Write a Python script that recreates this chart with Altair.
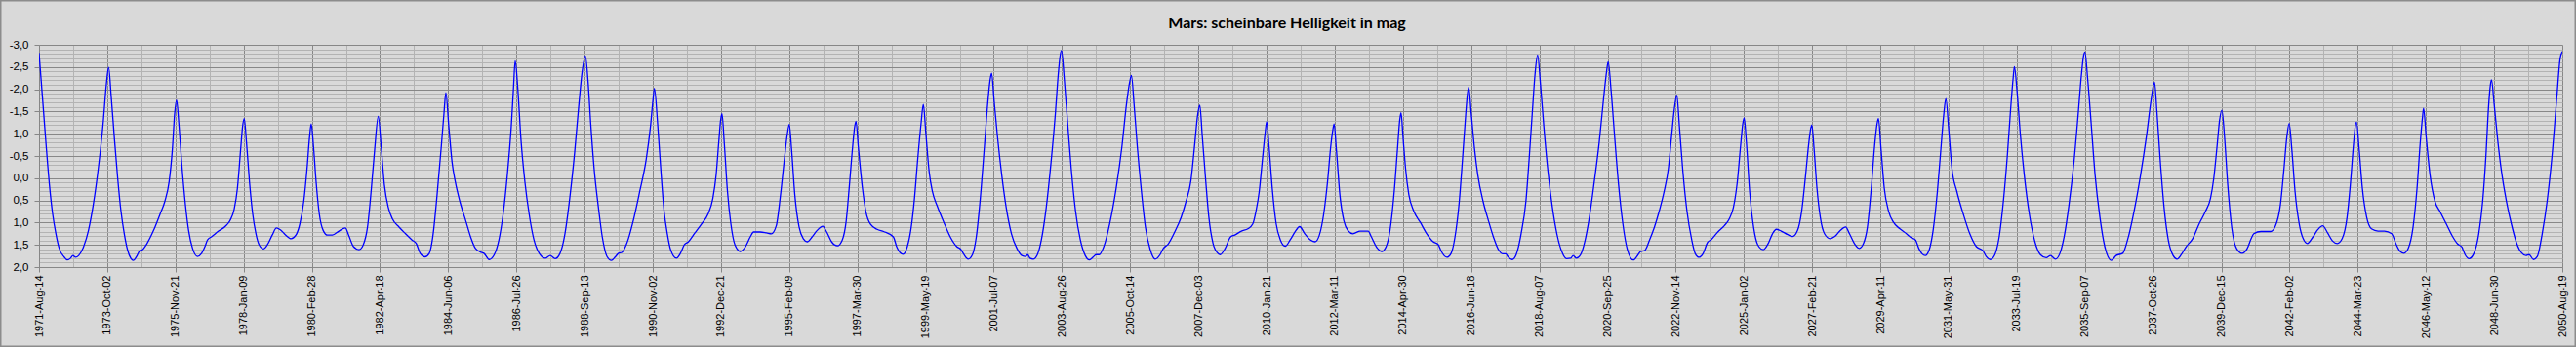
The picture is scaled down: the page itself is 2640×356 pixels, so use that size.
import altair as alt
import pandas as pd

TITLE = "Mars: scheinbare Helligkeit in mag"

# x: days since 1971-08-14 ; y: apparent magnitude
DAYS = [
    0, 45, 82, 119, 156, 193, 231, 286, 324, 361, 387, 417, 454, 510, 565, 621, 677, 733, 770, 796,
    826, 863, 900, 937, 975, 1012, 1049, 1079, 1116, 1153, 1183, 1235, 1309, 1384, 1439, 1488, 1525, 1551, 1573,
    1599, 1637, 1674, 1711, 1756, 1811, 1860, 1897, 1927, 1979, 2053, 2128, 2183, 2232, 2269, 2306, 2328, 2347,
    2373, 2407, 2444, 2481, 2518, 2567, 2611, 2667, 2715, 2760, 2816, 2883, 2938, 2983, 3028, 3065, 3095, 3113,
    3139, 3169, 3206, 3251, 3299, 3355, 3430, 3504, 3541, 3597, 3660, 3708, 3757, 3801, 3839, 3880,
    3913, 3950, 3995, 4043, 4118, 4192, 4266, 4315, 4359, 4415, 4464, 4508, 4553, 4601, 4631, 4653,
    4687, 4724, 4761, 4813, 4881, 4936, 4992, 5059, 5088, 5148, 5207, 5260, 5308, 5356, 5401, 5427, 5446,
    5475, 5512, 5557, 5606, 5661, 5724, 5791, 5847, 5903, 5959, 6015, 6070, 6126, 6175, 6212, 6249,
    6279, 6312, 6349, 6398, 6442, 6498, 6546, 6591, 6628, 6666, 6722, 6796, 6870, 6945, 6993, 7023, 7038,
    7075, 7113, 7149, 7186, 7224, 7290, 7336, 7380, 7428, 7502, 7577, 7651, 7707, 7744, 7774, 7796, 7811,
    7837, 7874, 7913, 7960, 8023, 8079, 8135, 8172, 8247, 8321, 8376, 8432, 8481, 8525, 8555, 8581,
    8607, 8644, 8693, 8741, 8787, 8842, 8897, 8964, 9009, 9065, 9132, 9187, 9232, 9269, 9306, 9329, 9344,
    9370, 9418, 9456, 9511, 9586, 9660, 9771, 9809, 9846, 9883, 9931, 9976, 10013, 10050, 10088, 10114,
    10143, 10181, 10218, 10274, 10348, 10422, 10497, 10542, 10579, 10627, 10676, 10720, 10766, 10813, 10850, 10876, 10895,
    10924, 10962, 11011, 11062, 11122, 11185, 11241, 11285, 11308, 11334, 11371, 11419, 11464, 11520, 11575, 11624, 11657, 11680, 11695,
    11725, 11762, 11806, 11855, 11910, 11966, 12014, 12059, 12089, 12126, 12178, 12245, 12319, 12386, 12438, 12476, 12494,
    12524, 12561, 12609, 12654, 12710, 12766, 12822, 12859, 12915, 12989, 13063, 13119, 13175, 13220, 13249, 13276,
    13305, 13342, 13380, 13428, 13473, 13510, 13566, 13629, 13677, 13752, 13826, 13882, 13919, 13956, 13993, 14023, 14041,
    14068, 14105, 14150, 14198, 14254, 14309, 14365, 14418, 14477, 14544, 14596, 14644, 14693, 14737, 14774, 14798, 14812,
    14838, 14878, 14924, 14972, 15027, 15110, 15202, 15239, 15295, 15358, 15407, 15451, 15500, 15537, 15563, 15578,
    15600, 15630, 15667, 15723, 15797, 15872, 15946, 16002, 16039, 16102, 16151, 16195, 16244, 16281, 16318, 16337, 16352,
    16381, 16419, 16456, 16516, 16578, 16634, 16690, 16738, 16776, 16802, 16850, 16895, 16951, 17006, 17043, 17081, 17110, 17140,
    17173, 17211, 17259, 17304, 17360, 17416, 17471, 17520, 17546, 17583, 17632, 17684, 17732, 17788, 17844, 17892, 17929, 17947,
    17981, 18018, 18066, 18115, 18167, 18234, 18290, 18316, 18364, 18420, 18476, 18531, 18587, 18635, 18672, 18702, 18732,
    18762, 18799, 18848, 18903, 18941, 18985, 19034, 19082, 19127, 19201, 19275, 19331, 19379, 19424, 19461, 19487, 19502,
    19528, 19565, 19610, 19658, 19721, 19777, 19826, 19870, 19926, 20001, 20057, 20112, 20160, 20205, 20242, 20264, 20276,
    20302, 20335, 20373, 20421, 20485, 20540, 20596, 20663, 20707, 20763, 20819, 20867, 20912, 20956, 20994, 21023, 21038,
    21068, 21105, 21154, 21209, 21284, 21358, 21414, 21462, 21500, 21537, 21574, 21619, 21663, 21712, 21749, 21786, 21809,
    21842, 21879, 21935, 22009, 22083, 22158, 22233, 22270, 22318, 22370, 22419, 22467, 22512, 22549, 22579, 22593,
    22623, 22660, 22706, 22764, 22828, 22890, 22957, 23006, 23062, 23114, 23162, 23218, 23274, 23323, 23360, 23386, 23400,
    23430, 23471, 23516, 23571, 23627, 23702, 23757, 23832, 23887, 23962, 24036, 24103, 24155, 24185, 24196,
    24222, 24260, 24305, 24353, 24408, 24453, 24502, 24558, 24632, 24706, 24780, 24836, 24873, 24911, 24940, 24966,
    24996, 25033, 25078, 25134, 25197, 25256, 25301, 25331, 25413, 25524, 25580, 25636, 25673, 25710, 25736,
    25766, 25803, 25851, 25896, 25944, 26008, 26063, 26119, 26175, 26231, 26287, 26342, 26398, 26435, 26473, 26491, 26506,
    26536, 26573, 26622, 26677, 26752, 26826, 26908, 26956, 27005, 27049, 27098, 27153, 27198, 27235, 27261, 27273,
    27302, 27347, 27403, 27458, 27533, 27607, 27663, 27711, 27748, 27793, 27849, 27904, 27949, 27986, 28016, 28038, 28050,
    28080, 28120, 28165, 28221, 28277, 28332, 28389, 28444, 28480, 28530, 28574, 28630, 28686, 28742, 28797, 28835, 28860,
]

MAG = [
    -2.82, -1.67, -0.72, 0.15, 0.81, 1.25, 1.58, 1.77, 1.84, 1.80, 1.74, 1.78, 1.74, 1.54, 1.18, 0.59, -0.21, -1.23, -2.11, -2.49,
    -1.82, -0.87, 0.01, 0.74, 1.25, 1.61, 1.80, 1.85, 1.76, 1.63, 1.61, 1.47, 1.18, 0.81, 0.52, 0.08, -0.65, -1.45, -1.76,
    -1.23, -0.21, 0.59, 1.18, 1.58, 1.76, 1.69, 1.54, 1.39, 1.31, 1.19, 1.09, 0.96, 0.70, 0.23, -0.65, -1.16, -1.34,
    -0.80, 0.08, 0.81, 1.25, 1.50, 1.59, 1.50, 1.28, 1.12, 1.16, 1.27, 1.36, 1.28, 1.03, 0.52, -0.21, -0.94, -1.22,
    -0.72, 0.08, 0.81, 1.18, 1.28, 1.28, 1.19, 1.12, 1.28, 1.54, 1.61, 1.50, 1.10, 0.23, -0.65, -1.39,
    -0.72, 0.15, 0.66, 0.92, 1.10, 1.25, 1.39, 1.47, 1.69, 1.77, 1.69, 1.25, 0.37, -0.72, -1.45, -1.92,
    -1.16, -0.36, 0.08, 0.52, 0.96, 1.32, 1.58, 1.67, 1.69, 1.83, 1.72, 1.39, 0.81, -0.07, -1.16, -2.04, -2.64,
    -2.04, -0.87, 0.08, 0.81, 1.39, 1.70, 1.80, 1.74, 1.81, 1.69, 1.25, 0.45, -0.58, -1.67, -2.40, -2.75,
    -2.18, -1.16, -0.21, 0.66, 1.32, 1.77, 1.85, 1.77, 1.69, 1.67, 1.47, 0.96, 0.30, -0.43, -1.16, -1.78, -2.02,
    -1.23, -0.15, 0.74, 1.25, 1.61, 1.80, 1.69, 1.50, 1.43, 1.23, 1.03, 0.81, 0.45, -0.07, -0.80, -1.31, -1.45,
    -0.80, 0.30, 1.03, 1.50, 1.65, 1.54, 1.32, 1.21, 1.21, 1.23, 1.25, 1.07, 0.37, -0.43, -0.94, -1.21,
    -0.65, 0.37, 1.10, 1.36, 1.43, 1.32, 1.18, 1.08, 1.21, 1.43, 1.52, 1.39, 0.96, 0.15, -0.72, -1.16, -1.28,
    -0.72, 0.23, 0.74, 1.04, 1.15, 1.20, 1.32, 1.54, 1.67, 1.71, 1.54, 1.10, 0.45, -0.43, -1.23, -1.66,
    -1.01, -0.14, 0.30, 0.63, 0.99, 1.32, 1.54, 1.60, 1.72, 1.82, 1.72, 1.32, 0.45, -0.72, -1.67, -2.18, -2.36,
    -1.74, -0.94, -0.07, 0.66, 1.25, 1.58, 1.74, 1.76, 1.72, 1.80, 1.82, 1.72, 1.39, 0.66, -0.36, -1.45, -2.33, -2.77, -2.87,
    -2.26, -1.31, -0.21, 0.74, 1.39, 1.74, 1.84, 1.77, 1.72, 1.72, 1.54, 1.03, 0.23, -0.72, -1.67, -2.18, -2.31,
    -1.67, -0.72, 0.30, 1.10, 1.61, 1.82, 1.72, 1.58, 1.48, 1.21, 0.88, 0.52, 0.05, -0.80, -1.38, -1.64,
    -0.94, 0.01, 0.88, 1.47, 1.67, 1.72, 1.58, 1.32, 1.28, 1.19, 1.14, 1.03, 0.74, 0.30, -0.43, -1.01, -1.27,
    -0.72, 0.23, 1.03, 1.39, 1.53, 1.39, 1.21, 1.09, 1.25, 1.39, 1.43, 1.28, 0.81, 0.08, -0.72, -1.09, -1.22,
    -0.65, 0.37, 0.96, 1.18, 1.25, 1.19, 1.19, 1.32, 1.54, 1.65, 1.54, 1.18, 0.30, -0.65, -1.31, -1.47,
    -0.94, -0.21, 0.37, 0.74, 0.99, 1.25, 1.43, 1.49, 1.65, 1.78, 1.69, 1.32, 0.52, -0.43, -1.45, -1.89, -2.05,
    -1.45, -0.65, -0.07, 0.52, 0.96, 1.32, 1.60, 1.70, 1.70, 1.77, 1.83, 1.72, 1.25, 0.52, -0.43, -1.53, -2.33, -2.77,
    -2.11, -1.16, -0.14, 0.59, 1.25, 1.65, 1.81, 1.80, 1.74, 1.80, 1.72, 1.39, 0.88, 0.08, -0.80, -1.74, -2.40, -2.62,
    -1.96, -1.01, 0.15, 1.03, 1.61, 1.84, 1.72, 1.65, 1.63, 1.39, 1.10, 0.74, 0.30, -0.21, -0.94, -1.53, -1.87,
    -1.16, -0.21, 0.74, 1.39, 1.69, 1.78, 1.69, 1.45, 1.38, 1.21, 1.07, 0.92, 0.66, 0.08, -0.72, -1.23, -1.36,
    -0.80, 0.30, 1.10, 1.50, 1.61, 1.47, 1.25, 1.15, 1.19, 1.27, 1.31, 1.18, 0.74, -0.07, -0.80, -1.12, -1.20,
    -0.65, 0.23, 0.88, 1.25, 1.36, 1.31, 1.19, 1.10, 1.25, 1.47, 1.58, 1.47, 1.10, 0.23, -0.72, -1.23, -1.34,
    -0.65, 0.23, 0.74, 0.99, 1.14, 1.25, 1.34, 1.39, 1.58, 1.70, 1.74, 1.61, 1.18, 0.30, -0.58, -1.45, -1.79,
    -1.09, -0.21, 0.30, 0.81, 1.25, 1.54, 1.63, 1.76, 1.83, 1.72, 1.32, 0.52, -0.50, -1.53, -2.26, -2.51,
    -1.96, -1.01, -0.07, 0.81, 1.43, 1.72, 1.79, 1.74, 1.82, 1.69, 1.32, 0.59, -0.36, -1.45, -2.33, -2.77, -2.84,
    -2.26, -1.23, -0.07, 0.88, 1.54, 1.85, 1.74, 1.69, 1.39, 0.74, -0.07, -0.94, -1.74, -2.11, -2.16,
    -1.53, -0.43, 0.66, 1.39, 1.74, 1.82, 1.72, 1.54, 1.36, 1.03, 0.74, 0.45, 0.01, -0.72, -1.31, -1.53,
    -0.94, 0.15, 1.10, 1.58, 1.69, 1.58, 1.36, 1.25, 1.20, 1.20, 1.07, 0.59, -0.14, -0.94, -1.23,
    -0.65, 0.30, 1.03, 1.36, 1.47, 1.32, 1.16, 1.07, 1.23, 1.41, 1.47, 1.36, 0.88, 0.15, -0.80, -1.16, -1.26,
    -0.65, 0.23, 0.88, 1.14, 1.19, 1.19, 1.25, 1.47, 1.65, 1.69, 1.58, 1.10, 0.23, -0.80, -1.38, -1.57,
    -0.94, -0.07, 0.52, 0.74, 1.03, 1.32, 1.48, 1.55, 1.72, 1.81, 1.69, 1.25, 0.52, -0.50, -1.60, -2.11, -2.21,
    -1.67, -0.87, -0.14, 0.52, 1.03, 1.43, 1.67, 1.74, 1.72, 1.83, 1.76, 1.25, 0.52, -0.50, -1.82, -2.69, -2.85,
]

assert len(DAYS) == len(MAG)

X_TICKS = list(range(0, 28861, 390))          # major every 780 days, minor every 390
Y_TICKS = [round(-3 + 0.1 * i, 1) for i in range(51)]

df = pd.DataFrame({"day": DAYS, "mag": MAG})

MAJOR = "#878787"
MINOR = "#b3b3b3"
x_major_test = "datum.value % 780 == 0"
y_major_test = "abs(datum.value * 2 - round(datum.value * 2)) < 0.001"

x_axis = alt.Axis(
    values=X_TICKS,
    labelExpr=f"{x_major_test} ? timeFormat(datetime(1971, 7, 14 + datum.value), '%Y-%b-%d') : ''",
    labelAngle=270,
    labelFont="Liberation Sans",
    labelFontSize=11,
    labelColor="black",
    labelPadding=3,
    labelOverlap=False,
    labelFlush=False,
    labelBound=False,
    grid=True,
    gridColor={"condition": {"test": x_major_test, "value": MAJOR}, "value": MINOR},
    gridWidth=1,
    tickColor={"condition": {"test": x_major_test, "value": MAJOR}, "value": "transparent"},
    tickSize=5,
    domainColor=MAJOR,
    title=None,
)

y_axis = alt.Axis(
    values=Y_TICKS,
    labelExpr=f"{y_major_test} ? (datum.value < -0.001 ? '-' : '') + replace(format(abs(datum.value), '.1f'), '.', ',') : ''",
    labelFont="Liberation Sans",
    labelFontSize=11.5,
    labelColor="black",
    labelPadding=6,
    labelOverlap=False,
    labelFlush=False,
    labelBound=False,
    grid=True,
    gridColor={"condition": {"test": y_major_test, "value": MAJOR}, "value": MINOR},
    gridWidth=1,
    tickColor={"condition": {"test": y_major_test, "value": MAJOR}, "value": "transparent"},
    tickSize=5,
    domainColor=MAJOR,
    title=None,
)

line = alt.Chart(df).mark_line(
    color="#0000ff", strokeWidth=1.3, interpolate="monotone", clip=True
).encode(
    x=alt.X("day:Q", scale=alt.Scale(domain=[0, 28860], nice=False, zero=False), axis=x_axis),
    y=alt.Y("mag:Q", scale=alt.Scale(domain=[-3, 2], reverse=True, nice=False, zero=False), axis=y_axis),
)

# thin grey frame around the whole picture (decoration only)
frame = alt.Chart(pd.DataFrame({"k": [0]})).mark_rect(
    fill=None, stroke="#8c8c8c", strokeWidth=1.5, clip=False
).encode(
    x=alt.value(-39.25), x2=alt.value(2599.25),
    y=alt.value(-45.25), y2=alt.value(309.25),
)

chart = alt.layer(line, frame).properties(
    width=2586,
    height=228,
    autosize=alt.AutoSizeParams(type="none"),
    padding={"left": 40, "top": 46, "right": 14, "bottom": 82},
    background="#d9d9d9",
    title=alt.TitleParams(
        TITLE, font="Lato", fontSize=16, fontWeight="bold", color="black",
        anchor="middle", baseline="alphabetic", offset=-45, dx=-14,
    ),
).configure_view(stroke=None)

chart.save("out.html", embed_options={"renderer": "svg", "actions": False})
